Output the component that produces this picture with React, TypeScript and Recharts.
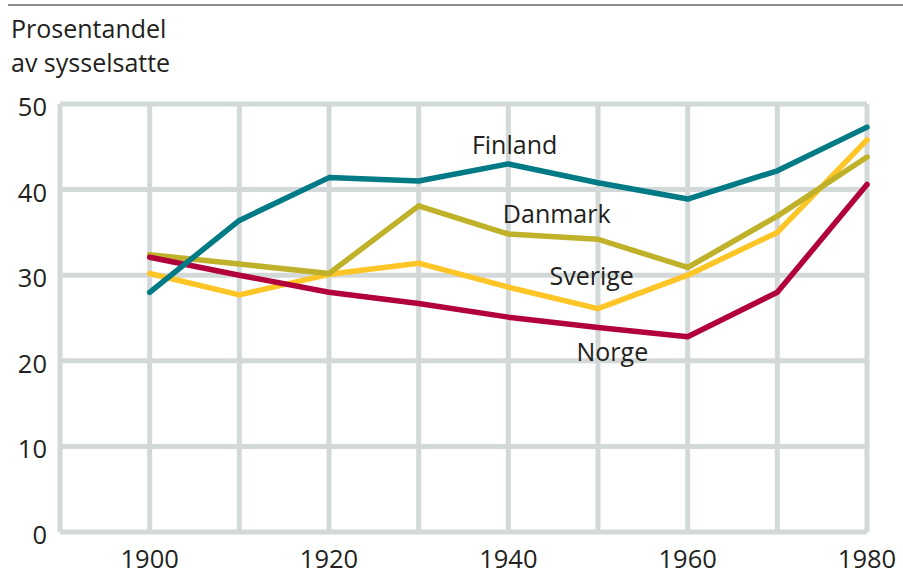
import React from 'react';
import { LineChart, Line, XAxis, YAxis, CartesianGrid, ReferenceDot } from 'recharts';

const years = [1900, 1910, 1920, 1930, 1940, 1950, 1960, 1970, 1980];
const finland = [28.0, 36.4, 41.4, 41.0, 43.0, 40.8, 38.9, 42.2, 47.3];
const danmark = [32.4, 31.3, 30.2, 38.1, 34.8, 34.2, 30.9, 36.9, 43.8];
const sverige = [30.2, 27.7, 30.1, 31.4, 28.6, 26.1, 30.0, 35.0, 45.8];
const norge = [32.1, 30.0, 28.0, 26.7, 25.1, 23.9, 22.8, 28.0, 40.6];

const xTicks = [1890, 1900, 1910, 1920, 1930, 1940, 1950, 1960, 1970, 1980];
const xLabelled = [1900, 1920, 1940, 1960, 1980];
const yTicks = [0, 10, 20, 30, 40, 50];

const titleLines = ['Prosentandel', 'av sysselsatte'];

const seriesLabels = [
  { name: 'Finland', year: 1940.7, value: 44.2 },
  { name: 'Danmark', year: 1945.4, value: 36.1 },
  { name: 'Sverige', year: 1949.3, value: 28.8 },
  { name: 'Norge', year: 1951.6, value: 20.0 },
];

const data = years.map((y, i) => ({
  year: y,
  Finland: finland[i],
  Danmark: danmark[i],
  Sverige: sverige[i],
  Norge: norge[i],
}));

const FONT = '"Open Sans", sans-serif';
const TEXT = '#231f20';

const XTick = (props: any) => {
  const { x, y, payload } = props;
  if (!xLabelled.includes(payload.value)) return null;
  return (
    <text x={x} y={y + 36} textAnchor="middle" fontFamily={FONT} fontSize={25.5} fill={TEXT}>
      {payload.value}
    </text>
  );
};

const YTick = (props: any) => {
  const { x, y, payload } = props;
  return (
    <text x={x} y={y + 12} textAnchor="end" fontFamily={FONT} fontSize={25.5} fill={TEXT}>
      {payload.value}
    </text>
  );
};

const SeriesLabel = (name: string) => (props: any) => {
  const { viewBox } = props;
  const cx = viewBox.x + (viewBox.width || 0) / 2;
  const cy = viewBox.y + (viewBox.height || 0) / 2;
  return (
    <text x={cx} y={cy} textAnchor="middle" fontFamily={FONT} fontSize={25} fill={TEXT}>
      {name}
    </text>
  );
};

export default function App() {
  return (
    <div style={{ position: 'absolute', left: 0, top: 0, width: 903, height: 579, background: '#fff' }}>
      <div style={{ position: 'absolute', left: 8, top: 4, width: 895, height: 2, background: '#8c8c8c' }} />
      {titleLines.map((t, i) => (
        <div
          key={t}
          style={{
            position: 'absolute',
            left: 11,
            top: 11 + i * 34,
            fontFamily: FONT,
            fontSize: 25,
            lineHeight: '34px',
            color: TEXT,
            whiteSpace: 'nowrap',
          }}
        >
          {t}
        </div>
      ))}
      <LineChart
        width={903}
        height={579}
        data={data}
        margin={{ top: 104, right: 36, bottom: 7, left: 0 }}
        style={{ position: 'absolute', left: 0, top: 0 }}
      >
        <CartesianGrid stroke="#d3d9d9" strokeWidth={5} />
        <XAxis
          dataKey="year"
          type="number"
          domain={[1890, 1980]}
          ticks={xTicks}
          interval={0}
          axisLine={false}
          tickLine={false}
          tickSize={0}
          tickMargin={0}
          height={40}
          tick={<XTick />}
        />
        <YAxis
          type="number"
          domain={[0, 50]}
          ticks={yTicks}
          interval={0}
          axisLine={false}
          tickLine={false}
          tickSize={0}
          tickMargin={13}
          width={60}
          tick={<YTick />}
        />
        <Line dataKey="Sverige" stroke="#fdc526" strokeWidth={5.5} dot={false} isAnimationActive={false} strokeLinecap="round" strokeLinejoin="round" />
        <Line dataKey="Danmark" stroke="#bfb12a" strokeWidth={5.5} dot={false} isAnimationActive={false} strokeLinecap="round" strokeLinejoin="round" />
        <Line dataKey="Norge" stroke="#b1003a" strokeWidth={5.5} dot={false} isAnimationActive={false} strokeLinecap="round" strokeLinejoin="round" />
        <Line dataKey="Finland" stroke="#007a85" strokeWidth={5.5} dot={false} isAnimationActive={false} strokeLinecap="round" strokeLinejoin="round" />
        {seriesLabels.map((l) => (
          <ReferenceDot
            key={l.name}
            x={l.year}
            y={l.value}
            r={0}
            fill="none"
            stroke="none"
            label={SeriesLabel(l.name)}
          />
        ))}
      </LineChart>
    </div>
  );
}
